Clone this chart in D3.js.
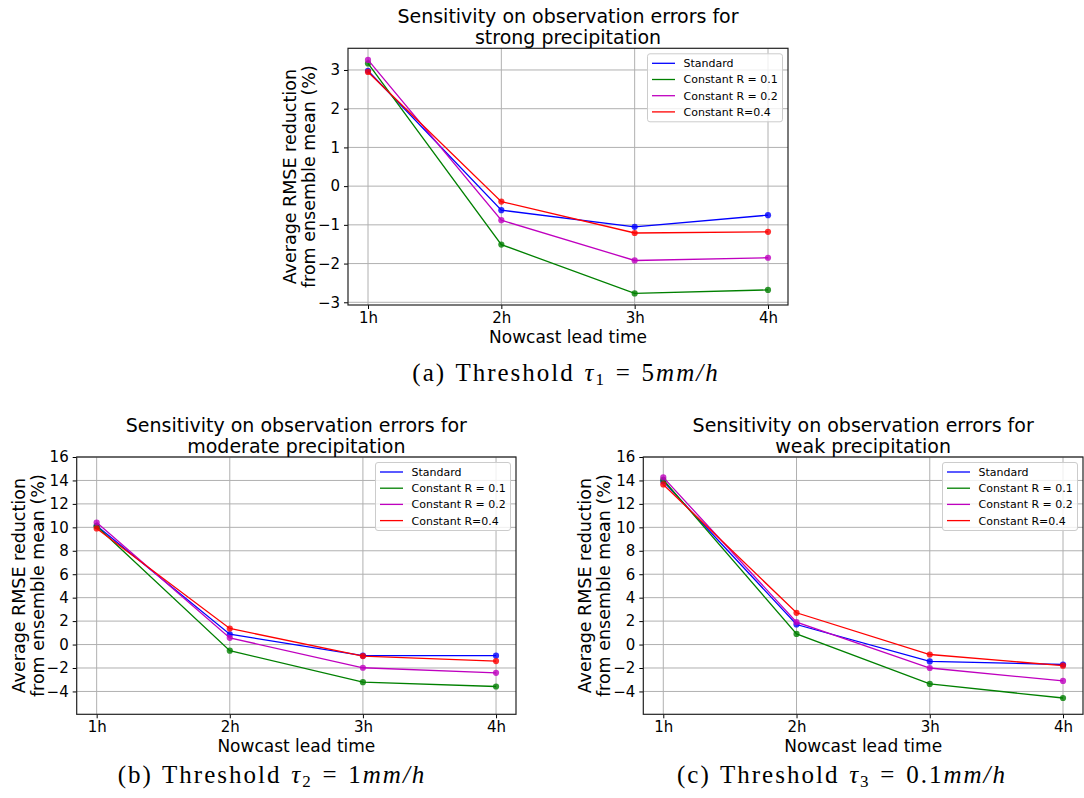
<!doctype html>
<html>
<head>
  <meta charset="utf-8">
  <title>Sensitivity on observation errors</title>
  <style>
    body { margin: 0; background: #fff; }
    svg { display: block; }
    .tick text { font-family: "DejaVu Sans", sans-serif; }
  </style>
</head>
<body>
  <div id="chart"></div>
  <script src="https://d3js.org/d3.v7.min.js"></script>
  <script>
    // categories and series
    const leadTimes = ['1h', '2h', '3h', '4h'];
    const seriesNames = ['Standard', 'Constant R = 0.1', 'Constant R = 0.2', 'Constant R=0.4'];
    const seriesColors = ['#0000ff', '#008000', '#bf00bf', '#ff0000'];

    // (a) strong precipitation
    const strongStandard = [2.98, -0.62, -1.05, -0.75];
    const strongR01 = [3.17, -1.51, -2.77, -2.68];
    const strongR02 = [3.26, -0.88, -1.92, -1.85];
    const strongR04 = [2.95, -0.40, -1.21, -1.18];

    // (b) moderate precipitation
    const moderateStandard = [10.13, 0.88, -0.95, -0.95];
    const moderateR01 = [10.10, -0.52, -3.21, -3.58];
    const moderateR02 = [10.41, 0.57, -1.98, -2.41];
    const moderateR04 = [9.90, 1.37, -0.98, -1.41];

    // (c) weak precipitation
    const weakStandard = [13.92, 1.71, -1.44, -1.70];
    const weakR01 = [14.06, 0.91, -3.36, -4.56];
    const weakR02 = [14.26, 1.91, -2.00, -3.10];
    const weakR04 = [13.66, 2.71, -0.85, -1.80];

    const yTicksStrong = [-3, -2, -1, 0, 1, 2, 3];
    const yTicksWide = [-4, -2, 0, 2, 4, 6, 8, 10, 12, 14, 16];

    const svg = d3.select('#chart').append('svg')
      .attr('width', 1084).attr('height', 798);

    const fmt = d => d < 0 ? '\u2212' + Math.abs(d) : String(d);

    const drawPanel = (p) => {
      const g = svg.append('g');
      const x = d3.scalePoint().domain(leadTimes).range([p.left, p.right]).padding(0.15);
      const y = d3.scaleLinear().domain(p.yDomain).range([p.bottom, p.top]);

      // grid
      g.append('g').selectAll('line').data(leadTimes).join('line')
        .attr('x1', d => x(d)).attr('x2', d => x(d))
        .attr('y1', p.top).attr('y2', p.bottom)
        .attr('stroke', '#b0b0b0').attr('stroke-width', 1);
      g.append('g').selectAll('line').data(p.yTicks).join('line')
        .attr('x1', p.left).attr('x2', p.right)
        .attr('y1', d => y(d)).attr('y2', d => y(d))
        .attr('stroke', '#b0b0b0').attr('stroke-width', 1);

      // axes
      const xAxis = g.append('g').attr('transform', `translate(0,${p.bottom})`)
        .call(d3.axisBottom(x).tickSizeOuter(0).tickSize(4).tickPadding(3.5));
      const yAxis = g.append('g').attr('transform', `translate(${p.left},0)`)
        .call(d3.axisLeft(y).tickValues(p.yTicks).tickFormat(fmt).tickSizeOuter(0).tickSize(4).tickPadding(4));
      [xAxis, yAxis].forEach(a => {
        a.select('.domain').remove();
        a.selectAll('.tick line').attr('stroke', '#000').attr('stroke-width', 1);
        a.selectAll('.tick text').attr('font-size', 15).attr('fill', '#000');
      });

      // lines + markers
      const line = d3.line().x((d, i) => x(leadTimes[i])).y(d => y(d));
      p.series.forEach((vals, k) => {
        g.append('path').attr('d', line(vals))
          .attr('fill', 'none').attr('stroke', seriesColors[k]).attr('stroke-width', 1.3);
        g.append('g').selectAll('circle').data(vals).join('circle')
          .attr('cx', (d, i) => x(leadTimes[i])).attr('cy', d => y(d)).attr('r', 3.1)
          .attr('fill', seriesColors[k]).attr('fill-opacity', 0.8);
      });

      // frame
      g.append('rect').attr('x', p.left).attr('y', p.top)
        .attr('width', p.right - p.left).attr('height', p.bottom - p.top)
        .attr('fill', 'none').attr('stroke', '#222').attr('stroke-width', 1.2);

      // legend
      const lw = 135, lh = 68;
      const lx = p.right - 5.5 - lw, ly = p.top + 5.5;
      const leg = g.append('g').attr('transform', `translate(${lx},${ly})`);
      leg.append('rect').attr('width', lw).attr('height', lh).attr('rx', 2.5)
        .attr('fill', '#fff').attr('fill-opacity', 0.8)
        .attr('stroke', '#cccccc').attr('stroke-width', 1);
      seriesNames.forEach((name, k) => {
        const ry = 9.5 + k * 16.2;
        leg.append('line').attr('x1', 4.5).attr('x2', 27.5).attr('y1', ry).attr('y2', ry)
          .attr('stroke', seriesColors[k]).attr('stroke-width', 1.3);
        leg.append('text').attr('x', 36).attr('y', ry).attr('dy', '0.36em')
          .attr('font-family', 'DejaVu Sans, sans-serif').attr('font-size', 11)
          .attr('fill', '#000').text(name);
      });

      const cx = (p.left + p.right) / 2;
      const cy = (p.top + p.bottom) / 2;

      // title
      p.title.forEach((t, i) => {
        g.append('text').attr('x', cx).attr('y', p.top - 25 + i * 21)
          .attr('text-anchor', 'middle').attr('font-family', 'DejaVu Sans, sans-serif')
          .attr('font-size', 19).attr('fill', '#000').text(t);
      });

      // axis labels
      g.append('text').attr('x', cx).attr('y', p.bottom + 37.5)
        .attr('text-anchor', 'middle').attr('font-family', 'DejaVu Sans, sans-serif')
        .attr('font-size', 17).attr('fill', '#000').text('Nowcast lead time');
      ['Average RMSE reduction', 'from ensemble mean (%)'].forEach((t, i) => {
        const tx = p.left - 58 + i * 19;
        g.append('text').attr('transform', `translate(${tx},${cy}) rotate(-90)`)
          .attr('text-anchor', 'middle').attr('dominant-baseline', 'central')
          .attr('font-family', 'DejaVu Sans, sans-serif')
          .attr('font-size', 17.5).attr('fill', '#000').text(t);
      });

      // caption
      const cap = svg.append('text').attr('x', p.capX).attr('y', p.capY)
        .attr('text-anchor', 'middle').attr('font-family', 'Liberation Serif, serif')
        .attr('font-size', 25).attr('letter-spacing', 2).attr('word-spacing', 1.5)
        .attr('fill', '#000');
      cap.append('tspan').text(`(${p.letter}) Threshold `);
      cap.append('tspan').attr('font-style', 'italic').text('\u03c4');
      cap.append('tspan').attr('font-size', 17).attr('dy', 4).text(p.sub);
      cap.append('tspan').attr('dy', -4).text(` = ${p.num}`);
      cap.append('tspan').attr('font-style', 'italic').text('mm/h');
    };

    drawPanel({
      left: 348, right: 788, top: 48.3, bottom: 305,
      yDomain: [-3.07, 3.56], yTicks: yTicksStrong,
      series: [strongStandard, strongR01, strongR02, strongR04],
      title: ['Sensitivity on observation errors for', 'strong precipitation'],
      letter: 'a', sub: '1', num: '5', capX: 566, capY: 381
    });
    drawPanel({
      left: 76.7, right: 516, top: 457, bottom: 714.3,
      yDomain: [-5.95, 16], yTicks: yTicksWide,
      series: [moderateStandard, moderateR01, moderateR02, moderateR04],
      title: ['Sensitivity on observation errors for', 'moderate precipitation'],
      letter: 'b', sub: '2', num: '1', capX: 272, capY: 783
    });
    drawPanel({
      left: 643.3, right: 1083, top: 457, bottom: 714.3,
      yDomain: [-5.95, 16], yTicks: yTicksWide,
      series: [weakStandard, weakR01, weakR02, weakR04],
      title: ['Sensitivity on observation errors for', 'weak precipitation'],
      letter: 'c', sub: '3', num: '0.1', capX: 842, capY: 783
    });
  </script>
</body>
</html>
